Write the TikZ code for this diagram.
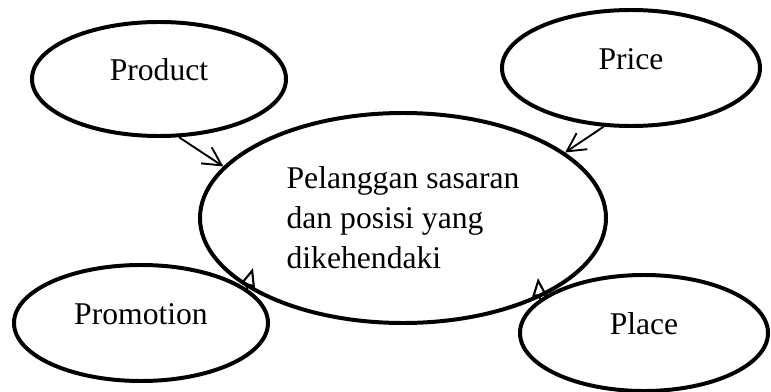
\documentclass[tikz,border=0pt]{standalone}
\usepackage{fontspec}
\setmainfont{Liberation Serif}
\usetikzlibrary{arrows.meta,shapes.geometric}

\begin{document}
\begin{tikzpicture}[x=0.03cm,y=-0.03cm,font=\fontsize{27pt}{34pt}\selectfont,
   mixbox/.style={draw,ellipse,line width=3.4pt,inner sep=0pt,text depth=0.55cm},
   bararrow/.style={-{Straight Barb[length=5.5mm,width=5.8mm]},line width=1.6pt},
   triarrow/.style={-{Triangle[open,length=5.5mm,width=4.4mm]},line width=1.8pt}]
  \useasboundingbox (0,0) rectangle (771,392);
  \node[mixbox,minimum width=7.62cm,minimum height=3.42cm] (product)   at (159,79)  {Product};
  \node[mixbox,minimum width=7.74cm,minimum height=3.48cm] (price)     at (631,68)  {Price};
  \node[mixbox,minimum width=7.62cm,minimum height=3.48cm] (promotion) at (141,323) {Promotion};
  \node[mixbox,minimum width=7.44cm,minimum height=3.48cm] (place)     at (644,333) {Place};
  \node[draw,ellipse,line width=3.4pt,inner sep=0pt,minimum width=12.18cm,minimum height=6.3cm,
        align=left] (target) at (403,218) {Pelanggan sasaran\\dan posisi yang\\dikehendaki};
  \coordinate (promotip) at (253,268);
  \coordinate (placetip) at (538,278);
  \draw[bararrow] (product.-71) -- (target.164);
  \draw[bararrow] (price.-115) -- (target.22);
  \draw[triarrow] (promotion.18) -- (promotip);
  \draw[triarrow] (place.162) -- (placetip);
\end{tikzpicture}
\end{document}
